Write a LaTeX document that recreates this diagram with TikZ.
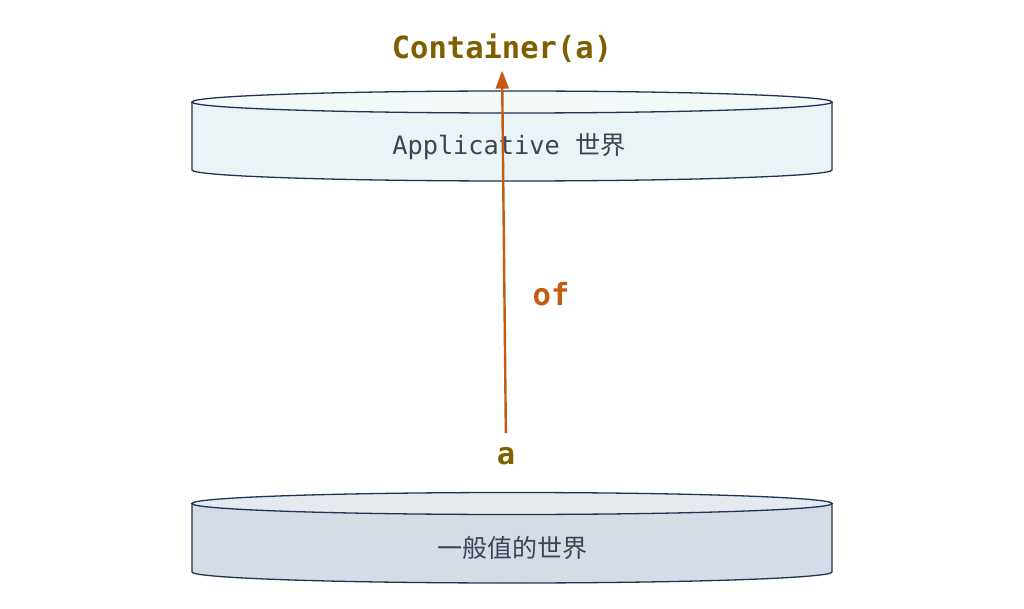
\documentclass[tikz,border=0pt]{standalone}
\usepackage{fontspec}
\setmonofont{DejaVu Sans Mono}
\newfontfamily\cjk{Noto Sans CJK SC}
\usetikzlibrary{arrows.meta}
\definecolor{olive}{HTML}{7F6000}
\definecolor{orng}{HTML}{C55A11}
\definecolor{txtgray}{HTML}{3B4556}
\definecolor{edge}{HTML}{1F3356}
\definecolor{topbody}{HTML}{EAF3F5}
\definecolor{toplid}{HTML}{F3F8F9}
\definecolor{botbody}{HTML}{D6DCE5}
\definecolor{botlid}{HTML}{E6E9EE}
\tikzset{
  cylline/.style={draw=edge, line width=1.3pt},
  worldlabel/.style={text=txtgray, inner sep=0pt},
  codelabel/.style={font=\ttfamily\bfseries\fontsize{30.5}{33}\selectfont, inner sep=0pt},
  arr/.style={draw=orng, line width=2.4pt, -{Triangle[length=18pt,width=13pt]}}
}
\begin{document}
\begin{tikzpicture}[x=1pt,y=-1pt]
\useasboundingbox (0,0) rectangle (1024,609);
% top cylinder
\fill[topbody] (192,102) rectangle (832,170);
\fill[topbody] (512,170) ellipse [x radius=320, y radius=11];
\fill[toplid] (512,102) ellipse [x radius=320, y radius=11];
\draw[cylline] (192,102) -- (192,170) arc [start angle=180, end angle=0, x radius=320, y radius=11] -- (832,102);
\draw[cylline] (512,102) ellipse [x radius=320, y radius=11];
% bottom cylinder
\fill[botbody] (192,503.5) rectangle (832,572);
\fill[botbody] (512,572) ellipse [x radius=320, y radius=11];
\fill[botlid] (512,503.5) ellipse [x radius=320, y radius=11];
\draw[cylline] (192,503.5) -- (192,572) arc [start angle=180, end angle=0, x radius=320, y radius=11] -- (832,503.5);
\draw[cylline] (512,503.5) ellipse [x radius=320, y radius=11];
% labels
\node[worldlabel, font=\ttfamily\fontsize{25.3}{29}\selectfont] (app) at (509,147) {Applicative {\cjk\fontsize{25.3}{29}\selectfont 世界}};
\node[worldlabel, font=\cjk\fontsize{25}{28}\selectfont] (plain) at (512,548) {一般值的世界};
\node[codelabel, text=olive] (cont) at (502,48) {Container(a)};
\node[codelabel, text=olive] (a) at (506,456) {a};
\node[codelabel, text=orng] (of) at (551,294) {of};
% arrow
\draw[arr, shorten <=14pt, shorten >=8pt] (a.north) -- (cont.south);
\end{tikzpicture}
\end{document}
